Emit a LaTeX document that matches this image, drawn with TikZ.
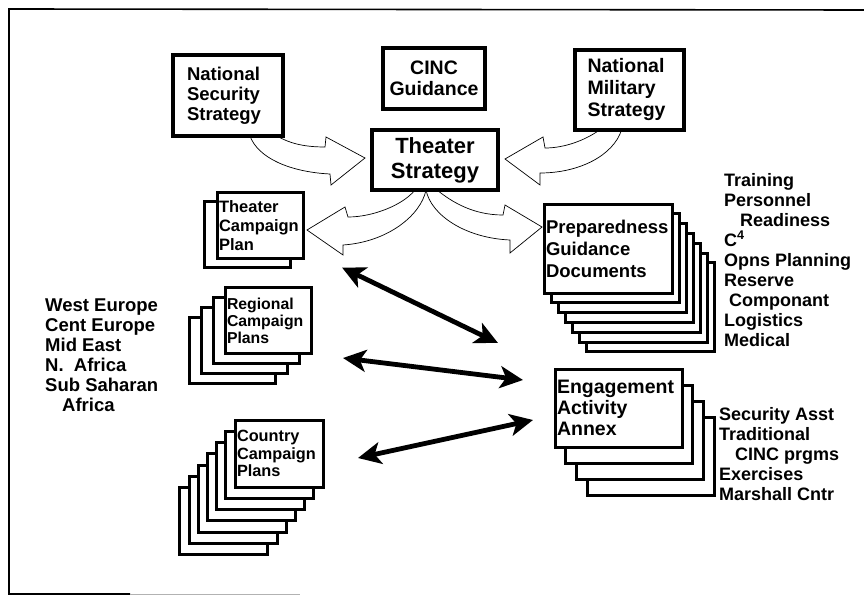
\documentclass[tikz,border=0pt]{standalone}
\usepackage{fontspec}
\setmainfont{Liberation Sans}
\usetikzlibrary{arrows.meta,calc,backgrounds}

\begin{document}
\begin{tikzpicture}[x=1pt,y=-1pt,
                    >={Stealth[length=23pt,width=22pt,inset=6pt]}]
  \tikzstyle{plainbox}=[draw,line width=3.4pt,fill=white,outer sep=0pt,inner sep=0pt]
  \tikzstyle{card}=[draw,line width=3pt,fill=white,outer sep=0pt,inner xsep=2pt,inner ysep=0pt,align=left]
  \tikzstyle{campaign}=[card,minimum width=86,minimum height=66]
  \tikzstyle{countrycard}=[card,minimum width=88,minimum height=67]
  \tikzstyle{prepcard}=[card,minimum width=128,minimum height=89]
  \tikzstyle{engcard}=[card,minimum width=127,minimum height=78]
  \tikzstyle{fatarrow}=[draw,line width=0.7pt,fill=white]
  \tikzstyle{dblarrow}=[<->,line width=4.8pt]
  \tikzstyle{itemlist}=[anchor=north west,inner sep=0pt,align=left]

  \useasboundingbox (0,0) rectangle (864,596);

  \node[plainbox,minimum width=110,minimum height=81,text width=82,align=left,
        font=\bfseries\fontsize{18.5}{20}\selectfont] (nss) at (228,95.5) {National\\Security\\Strategy};
  \node[plainbox,minimum width=102,minimum height=61,align=center,
        font=\bfseries\fontsize{19.5}{21}\selectfont] (cinc) at (434,78.5) {CINC\\Guidance};
  \node[plainbox,minimum width=109,minimum height=80,text width=84,align=left,
        font=\bfseries\fontsize{19.5}{22}\selectfont] (nms) at (629.5,90) {National\\Military\\Strategy};
  \node[plainbox,minimum width=126,minimum height=60,align=center,
        font=\bfseries\fontsize{22}{25}\selectfont] (ts) at (435,160) {Theater\\Strategy};

  \node[campaign] (tcp1) at (247,234.5) {};
  \node[campaign,text width=82,font=\bfseries\fontsize{16.5}{19}\selectfont] (tcp) at (260,225.5) {Theater\\Campaign\\Plan};

  \foreach \i in {3,2,1}
    \node[campaign] (rcp\i) at ($(268,320.5)+(-12*\i,10*\i)$) {};
  \node[campaign,text width=82,font=\bfseries\fontsize{15.8}{17}\selectfont] (rcp) at (268,320.5) {Regional\\Campaign\\Plans};

  \foreach \i in {6,...,1}
    \node[countrycard] (ccp\i) at ($(279,453.5)+(-9.2*\i,11.3*\i)$) {};
  \node[countrycard,text width=84,font=\bfseries\fontsize{16.3}{17.5}\selectfont] (ccp) at (279,453.5) {Country\\Campaign\\Plans};

  \foreach \i in {6,...,1}
    \node[prepcard] (pgd\i) at ($(608,248.5)+(7*\i,9.8*\i)$) {};
  \node[prepcard,text width=124,font=\bfseries\fontsize{18.5}{22}\selectfont] (pgd) at (608,248.5) {Preparedness\\Guidance\\Documents};

  \foreach \i in {3,2,1}
    \node[engcard] (eaa\i) at ($(618.5,408)+(10.7*\i,16*\i)$) {};
  \node[engcard,text width=123,font=\bfseries\fontsize{19.5}{21}\selectfont] (eaa) at (618.5,408) {Engagement\\Activity\\Annex};

  \node[itemlist,font=\bfseries\fontsize{18.5}{20}\selectfont] (regions) at (45,299)
    {West Europe\\Cent Europe\\Mid East\\N.\ \ Africa\\Sub Saharan\\\hspace*{17pt}Africa};
  \node[itemlist,font=\bfseries\fontsize{18}{20}\selectfont] (prepitems) at (724,173)
    {Training\\Personnel\\\hspace*{16pt}Readiness\\C\textsuperscript{4}\\Opns Planning\\Reserve\\\hspace*{5pt}Componant\\Logistics\\Medical};
  \node[itemlist,font=\bfseries\fontsize{18}{20}\selectfont] (engitems) at (719,407)
    {Security Asst\\Traditional\\\hspace*{16pt}CINC prgms\\Exercises\\Marshall Cntr};

  \coordinate (t1) at ($(ts.west)+(-7,-2)$);
  \coordinate (t2) at ($(ts.east)+(7,-1)$);
  \coordinate (t3) at ($(tcp.east)+(4,4.5)$);
  \coordinate (t4) at ($(pgd.west)+(-2,-21.5)$);

  \begin{scope}[on background layer]
    \draw[line width=1.6pt] (864,10) -- (9,9) -- (9,594) -- (130,594);
    \draw[line width=1pt,gray!60] (130,594) -- (300,594);

    \path[fatarrow] ($(nss.south east)+(-6,0)$) .. controls +(12,7) and +(-22,0) .. ($(t1)+(-40,-11)$)
      -- ($(t1)+(-39,-21)$) -- (t1) -- ($(t1)+(-34,27)$) -- ($(t1)+(-35,16)$)
      .. controls +(-40,-2) and +(8,22) .. ($(nss.south)+(22,0)$) -- cycle;
    \path[fatarrow] ($(nms.south)+(-30,0)$) .. controls +(-14,10) and +(20,0) .. ($(t2)+(40,-11)$)
      -- ($(t2)+(38,-22)$) -- (t2) -- ($(t2)+(35,26)$) -- ($(t2)+(35,14)$)
      .. controls +(40,0) and +(-8,25) .. ($(nms.south)+(-8,0)$) -- cycle;
    \path[fatarrow] ($(ts.south)+(-20,0)$) .. controls +(-12,15) and +(25,0) .. ($(t3)+(41,-13)$)
      -- ($(t3)+(38,-23)$) -- (t3) -- ($(t3)+(36,25)$) -- ($(t3)+(36,15)$)
      .. controls +(45,-3) and +(-5,25) .. ($(ts.south)+(-9,0)$) -- cycle;
    \path[fatarrow] ($(ts.south)+(2,0)$) .. controls +(15,12) and +(-30,0) .. ($(t4)+(-39,-12)$)
      -- ($(t4)+(-37,-22)$) -- (t4) -- ($(t4)+(-32,26)$) -- ($(t4)+(-32,13)$)
      .. controls +(-45,-2) and +(5,25) .. ($(ts.south)+(-9,0)$) -- cycle;
  \end{scope}

  \coordinate (a1) at ($(tcp.south east)+(39,9)$);
  \coordinate (a2) at ($(pgd.south west)+(-46,50)$);
  \coordinate (b1) at ($(rcp.east)+(32,37.5)$);
  \coordinate (b2) at ($(eaa.west)+(-32,-28)$);
  \coordinate (c1) at ($(ccp.east)+(35,4.5)$);
  \coordinate (c2) at ($(eaa.west)+(-22,12)$);

  \draw[dblarrow] (a1) -- (a2);
  \draw[dblarrow] (b1) -- (b2);
  \draw[dblarrow] (c1) -- (c2);
\end{tikzpicture}
\end{document}
